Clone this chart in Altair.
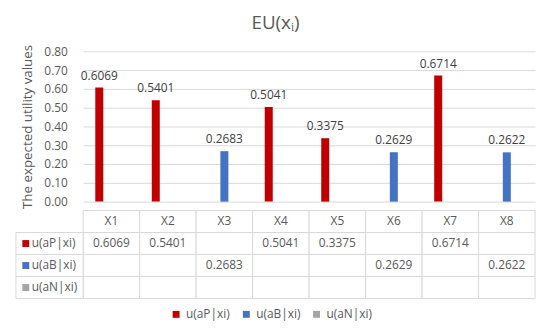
import altair as alt
import pandas as pd

categories = ["X1", "X2", "X3", "X4", "X5", "X6", "X7", "X8"]
series_labels = ["u(aP|xi)", "u(aB|xi)", "u(aN|xi)"]
colors = ["#C00000", "#4472C4", "#A5A5A5"]
u_aP = [0.6069, 0.5401, None, 0.5041, 0.3375, None, 0.6714, None]
u_aB = [None, None, 0.2683, None, None, 0.2629, None, 0.2622]
u_aN = [None, None, None, None, None, None, None, None]
y_ticks = [0.0, 0.1, 0.2, 0.3, 0.4, 0.5, 0.6, 0.7, 0.8]

FONT = "Open Sans"
TXT = "#595959"
GRID = "#D9D9D9"

rows = []
for lab, vals in zip(series_labels, [u_aP, u_aB, u_aN]):
    for c, v in zip(categories, vals):
        rows.append({"cat": c, "series": lab, "value": v})
df = pd.DataFrame(rows)
bars_df = df.dropna(subset=["value"]).copy()
bars_df["label"] = bars_df["value"].map(lambda v: f"{v:.4f}")

W = 457
color_scale = alt.Scale(domain=series_labels, range=colors)
x_scale = alt.Scale(domain=categories, paddingInner=0, paddingOuter=0)

base = alt.Chart(bars_df).encode(
    x=alt.X("cat:N", scale=x_scale, axis=None),
    xOffset=alt.XOffset("series:N", scale=alt.Scale(domain=series_labels, paddingInner=0.34, paddingOuter=1)),
    y=alt.Y("value:Q", scale=alt.Scale(domain=[0, 0.8], nice=False),
            axis=alt.Axis(values=y_ticks, format=".2f", grid=True, gridColor=GRID,
                          domain=False, ticks=False, labelPadding=16,
                          labelFont=FONT, labelFontSize=12, labelColor=TXT,
                          title="The expected utility values", titleFont=FONT,
                          titleFontSize=13.5, titleFontWeight="normal", titleColor=TXT,
                          titlePadding=9)),
)
bars = base.mark_bar().encode(
    color=alt.Color("series:N", scale=color_scale,
                    legend=alt.Legend(orient="none", direction="horizontal", title=None,
                                      symbolType="square", symbolSize=49, symbolStrokeWidth=0,
                                      labelFont=FONT, labelFontSize=12, labelColor=TXT,
                                      columnPadding=10, legendX=88, legendY=260))
)
labels = base.mark_text(baseline="bottom", dy=-5, font=FONT, fontSize=12, color="#404040").encode(
    text="label:N"
)
top = alt.layer(bars, labels).properties(width=W, height=152)

# table
row_keys = ["hdr"] + series_labels
cell_rows = []
for r in row_keys:
    for c in categories:
        cell_rows.append({"cat": c, "row": r})
cells_df = pd.DataFrame(cell_rows)

txt_rows = [{"cat": c, "row": "hdr", "t": c} for c in categories]
for _, rr in bars_df.iterrows():
    txt_rows.append({"cat": rr["cat"], "row": rr["series"], "t": rr["label"]})
txt_df = pd.DataFrame(txt_rows)

lab_df = pd.DataFrame({"row": series_labels, "series": series_labels})

y_row = alt.Y("row:N", scale=alt.Scale(domain=row_keys, paddingInner=0, paddingOuter=0), axis=None)
x_tab = alt.X("cat:N", scale=x_scale, axis=None)

cells = alt.Chart(cells_df).mark_rect(fill="white", stroke=GRID, strokeWidth=1).encode(x=x_tab, y=y_row)
cell_txt = alt.Chart(txt_df).mark_text(font=FONT, fontSize=12, color=TXT).encode(
    x=x_tab, y=y_row, text="t:N")
lab_cells = alt.Chart(lab_df).mark_rect(fill="white", stroke=GRID, strokeWidth=1).encode(
    x=alt.value(-68), x2=alt.value(0), y=y_row)
lab_sq = alt.Chart(lab_df).mark_square(size=49, opacity=1).encode(
    x=alt.value(-58), y=y_row, color=alt.Color("series:N", scale=color_scale, legend=None))
lab_txt = alt.Chart(lab_df).mark_text(align="left", font=FONT, fontSize=12, color=TXT).encode(
    x=alt.value(-52), y=y_row, text="series:N")
table = alt.layer(cells, cell_txt, lab_cells, lab_sq, lab_txt).properties(width=W, height=89)

chart = alt.vconcat(top, table, spacing=0).properties(
    title=alt.TitleParams("EU(xᵢ)", font=FONT, fontSize=19, fontWeight="normal", color=TXT,
                          anchor="middle", offset=11),
    padding={"left": 7, "top": 4, "right": 5, "bottom": 5},
).configure_view(stroke=None)

chart.save("out.html", embed_options={"renderer": "svg", "actions": False})
